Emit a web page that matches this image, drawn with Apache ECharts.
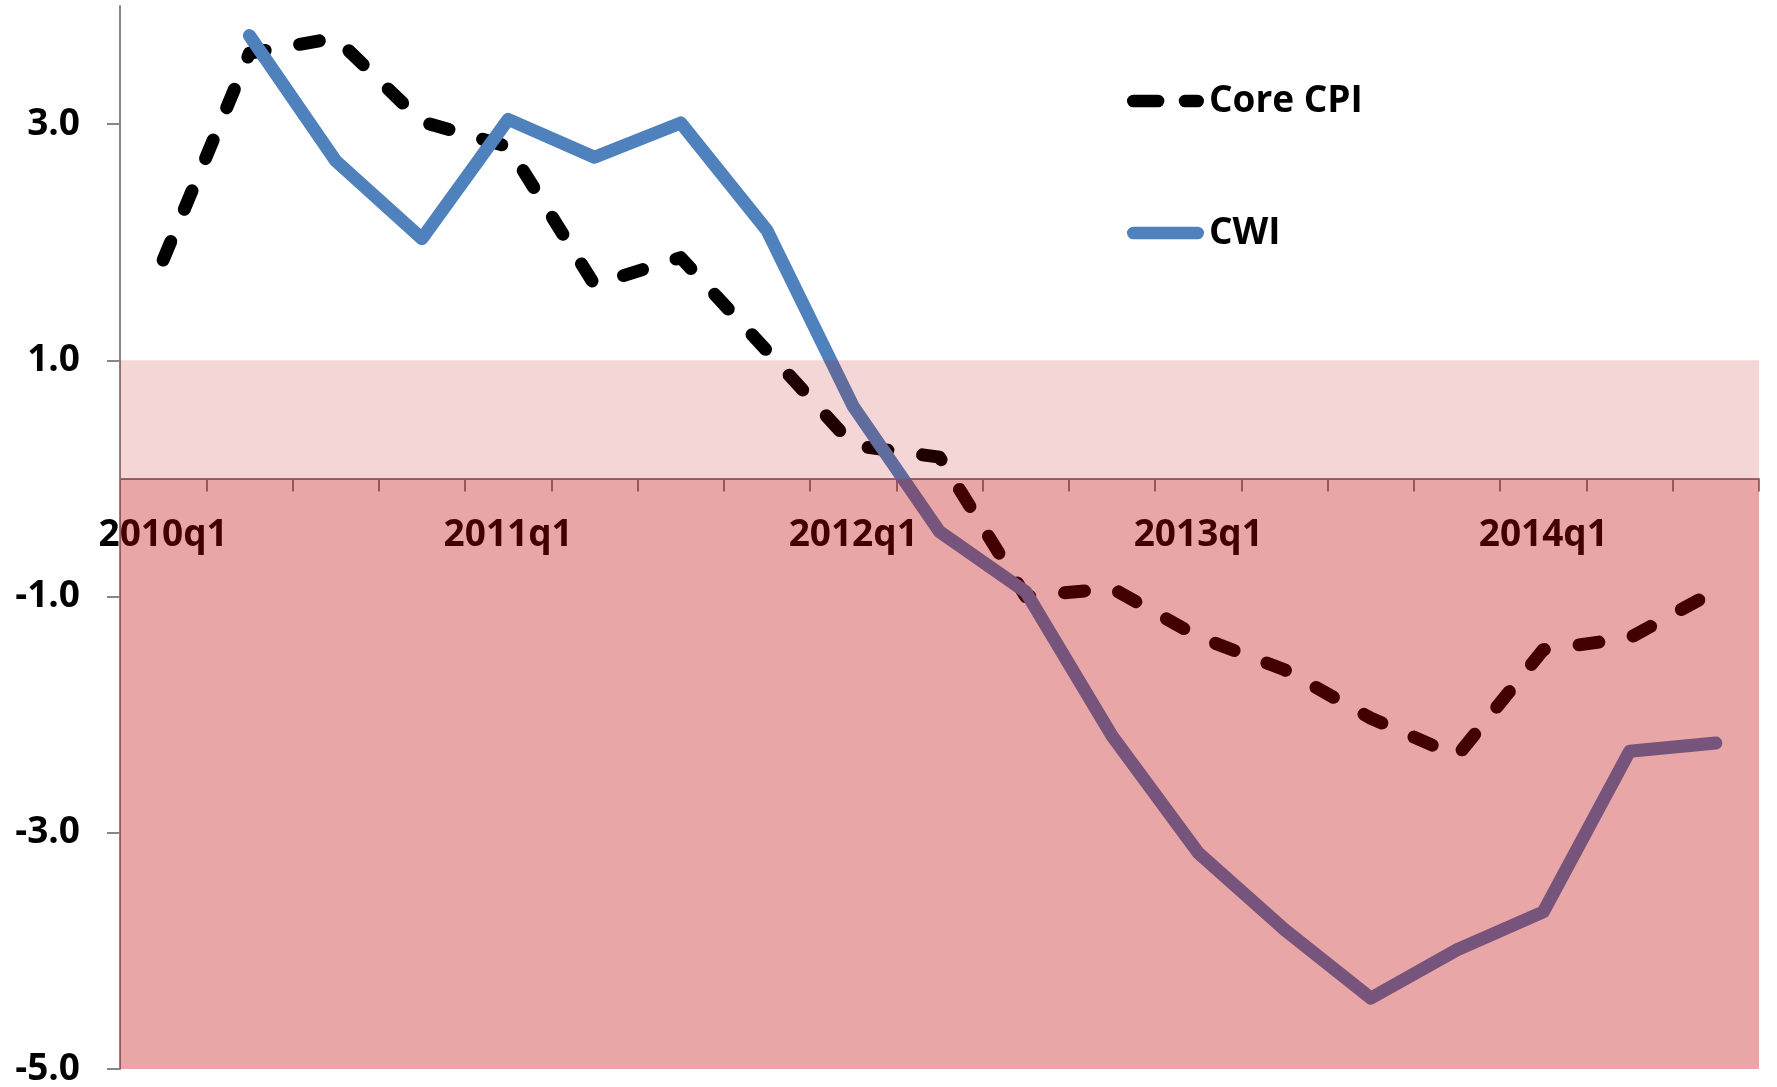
<!DOCTYPE html>
<html>
<head>
<meta charset="utf-8">
<script src="https://cdn.jsdelivr.net/npm/echarts@6/dist/echarts.min.js"></script>
<style>
  html, body { margin: 0; padding: 0; background: #ffffff; }
  #chart { width: 1777px; height: 1087px; }
</style>
</head>
<body>
<div id="chart"></div>
<script>
// ---- data ----
const quarters = [
  '2010q1','2010q2','2010q3','2010q4',
  '2011q1','2011q2','2011q3','2011q4',
  '2012q1','2012q2','2012q3','2012q4',
  '2013q1','2013q2','2013q3','2013q4',
  '2014q1','2014q2','2014q3'
];
const coreCPI = [1.85, 3.60, 3.73, 3.02, 2.81, 1.64, 1.87, 1.08, 0.28, 0.18,
                 -1.00, -0.93, -1.34, -1.62, -2.03, -2.35, -1.45, -1.35, -0.95];
const cwi = [null, 3.75, 2.69, 2.03, 3.04, 2.72, 3.01, 2.10, 0.61, -0.45,
             -0.96, -2.18, -3.17, -3.82, -4.40, -3.99, -3.67, -2.31, -2.24];
const yTicks = [-5, -3, -1, 1, 3];
const yMin = -5, yMax = 4;
const bandLight = [0, 1];
const bandDark = [-5, 0];

const FONT = '"Open Sans", "Liberation Sans", sans-serif';
const AXIS_GRAY = '#868686';
const W = 1777, H = 1087;
const G = { left: 120, right: 18, top: 6, bottom: 18 };
// move x axis up to the value 0 of the y axis
const plotH = H - G.top - G.bottom;
const xAxisOffset = -plotH * (0 - yMin) / (yMax - yMin);

const dashIcon = 'path://M6.5,0 H32 A6.5,6.5 0 0 1 32,13 H6.5 A6.5,6.5 0 0 1 6.5,0 Z ' +
                 'M59.8,0 H72.8 A6.5,6.5 0 0 1 72.8,13 H59.8 A6.5,6.5 0 0 1 59.8,0 Z';
const solidIcon = 'path://M6.5,0 H72.8 A6.5,6.5 0 0 1 72.8,13 H6.5 A6.5,6.5 0 0 1 6.5,0 Z';

const chart = echarts.init(document.getElementById('chart'), null, { renderer: 'canvas' });
chart.setOption({
  animation: false,
  backgroundColor: '#ffffff',
  grid: { left: G.left, right: G.right, top: G.top, bottom: G.bottom, containLabel: false, outerBoundsMode: 'none' },
  legend: {
    orient: 'vertical',
    left: 1122,
    top: 76,
    itemWidth: 77,
    itemHeight: 13,
    itemGap: 92,
    data: [
      { name: 'Core CPI', icon: dashIcon, itemStyle: { color: '#000000' } },
      { name: 'CWI', icon: solidIcon, itemStyle: { color: '#4F81BD' } }
    ],
    textStyle: { fontFamily: FONT, fontWeight: 'bold', fontSize: 37, color: '#000', lineHeight: 40 }
  },
  xAxis: {
    type: 'category',
    data: quarters,
    boundaryGap: true,
    position: 'bottom',
    offset: xAxisOffset,
    axisLine: { onZero: false, lineStyle: { color: AXIS_GRAY, width: 2 } },
    axisTick: { show: true, interval: 0, length: 13, inside: false, lineStyle: { color: AXIS_GRAY, width: 2 } },
    axisLabel: {
      interval: 3, margin: 39,
      fontFamily: FONT, fontWeight: 'bold', fontSize: 37, color: '#000'
    },
    splitLine: { show: false }
  },
  yAxis: {
    type: 'value',
    min: yMin, max: yMax,
    axisLine: { show: true, lineStyle: { color: AXIS_GRAY, width: 2 } },
    axisTick: { show: true, length: 13, customValues: yTicks, lineStyle: { color: AXIS_GRAY, width: 2 } },
    axisLabel: {
      customValues: yTicks, margin: 40,
      formatter: v => v.toFixed(1),
      fontFamily: FONT, fontWeight: 'bold', fontSize: 37, color: '#000'
    },
    splitLine: { show: false }
  },
  series: [
    {
      name: 'Core CPI',
      type: 'line',
      data: coreCPI,
      symbol: 'none',
      lineStyle: { color: '#000000', width: 13, type: [20, 35], cap: 'round', join: 'round' },
      itemStyle: { color: '#000000' },
      z: 2
    },
    {
      name: 'CWI',
      type: 'line',
      data: cwi,
      symbol: 'none',
      connectNulls: false,
      lineStyle: { color: '#4F81BD', width: 13, cap: 'round', join: 'round' },
      itemStyle: { color: '#4F81BD' },
      z: 3,
      markArea: {
        silent: true,
        z: 10,
        label: { show: false },
        data: [
          [{ yAxis: bandLight[0], itemStyle: { color: 'rgba(192,0,0,0.16)' } }, { yAxis: bandLight[1] }],
          [{ yAxis: bandDark[0], itemStyle: { color: 'rgba(192,0,0,0.35)' } }, { yAxis: bandDark[1] }]
        ]
      }
    }
  ]
});
</script>
</body>
</html>
